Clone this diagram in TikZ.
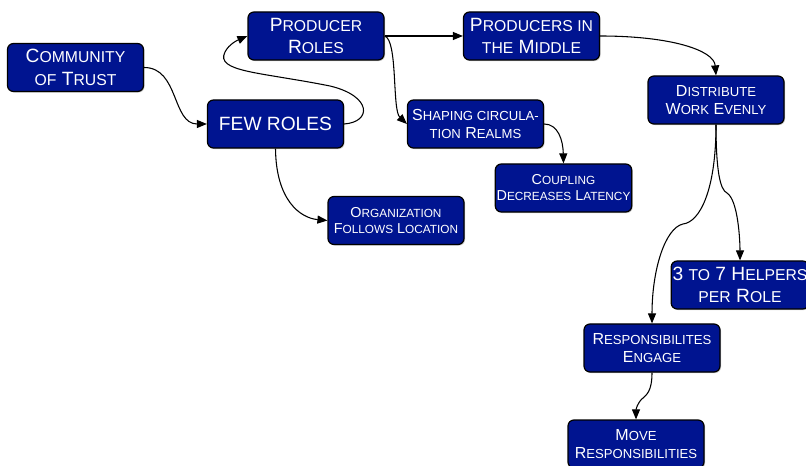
\documentclass[tikz,border=0pt]{standalone}
\usepackage{fontspec}
\setmainfont{Liberation Sans}
\usetikzlibrary{arrows.meta,shadows}
\definecolor{boxblue}{RGB}{0,20,144}
\makeatletter
\newcommand\sk[1]{{\fontsize{\fpeval{0.82*\f@size}}{\f@baselineskip}\selectfont #1}}
\makeatother
\tikzset{
  box/.style={draw=black, line width=0.9pt, fill=boxblue, text=white, rounded corners=4.5pt,
    minimum width=102pt, minimum height=36pt, inner sep=1pt, align=center,
    drop shadow={shadow xshift=0.8pt, shadow yshift=-0.8pt, fill=gray!70, opacity=0.6}},
  big/.style={font=\fontsize{14.4}{17}\selectfont},
  mid/.style={font=\fontsize{12}{14}\selectfont},
  sml/.style={font=\fontsize{10.8}{12}\selectfont},
  conn/.style={draw=black, line width=0.8pt, -{Triangle[length=7.5pt,width=6pt]}}
}
\begin{document}
\begin{tikzpicture}[x=0.75pt,y=-0.75pt]
\useasboundingbox (0,0) rectangle (806,466);
\clip (0,0) rectangle (806,466);
\node[box,big] (cot) at (75.5,67.5) {C\sk{OMMUNITY}\\\sk{OF} T\sk{RUST}};
\node[box,big] (prod) at (316,36) {P\sk{RODUCER}\\R\sk{OLES}};
\node[box,big] (few) at (275.5,124) {FEW ROLES};
\node[box,big] (pim) at (531.5,36) {P\sk{RODUCERS IN}\\\sk{THE} M\sk{IDDLE}};
\node[box,mid] (shp) at (475.5,124) {S\sk{HAPING CIRCULA-}\\\sk{TION} R\sk{EALMS}};
\node[box,sml] (cpl) at (563.5,188) {C\sk{OUPLING}\\D\sk{ECREASES} L\sk{ATENCY}};
\node[box,mid] (dist) at (716,100) {D\sk{ISTRIBUTE}\\W\sk{ORK} E\sk{VENLY}};
\node[box,sml] (org) at (396,220.5) {O\sk{RGANIZATION}\\F\sk{OLLOWS} L\sk{OCATION}};
\node[box,big] (h37) at (740,285) {3 \sk{TO} 7 H\sk{ELPERS}\\\sk{PER} R\sk{OLE}};
\node[box,mid] (resp) at (652,348) {R\sk{ESPONSIBILITES}\\E\sk{NGAGE}};
\node[box,mid] (move) at (636,444) {M\sk{OVE}\\R\sk{ESPONSIBILITIES}};

\draw[conn] (cot.east) .. controls +(35,0) and +(-35,0) .. (few.west);
\draw[conn] (few.east) .. controls (372,122) and (372,96) .. (330,86)
  .. controls (260,72) and (215,72) .. (225,52)
  .. controls (229,44) and (238,40) .. (prod.west);
\draw[conn] (prod.east) -- (pim.west);
\draw[conn] (prod.east) .. controls (398,40) and (392,110) .. (shp.west);
\draw[conn] (pim.east) .. controls (670,36) and (714,50) .. (dist.north);
\draw[conn] (shp.east) .. controls (558,124) and (563,140) .. (cpl.north);
\draw[conn] (few.south) .. controls (276,200) and (300,218) .. (org.west);
\draw[conn] (dist.south) .. controls (716,170) and (720,190) .. (727,193)
  .. controls (738,200) and (740,240) .. (h37.north);
\draw[conn] (dist.south) .. controls (716,190) and (700,222) .. (683,224)
  .. controls (665,228) and (652,270) .. (resp.north);
\draw[conn] (resp.south) .. controls (652,392) and (646,395) .. (643,398)
  .. controls (637,403) and (636,410) .. (move.north);
\end{tikzpicture}
\end{document}
